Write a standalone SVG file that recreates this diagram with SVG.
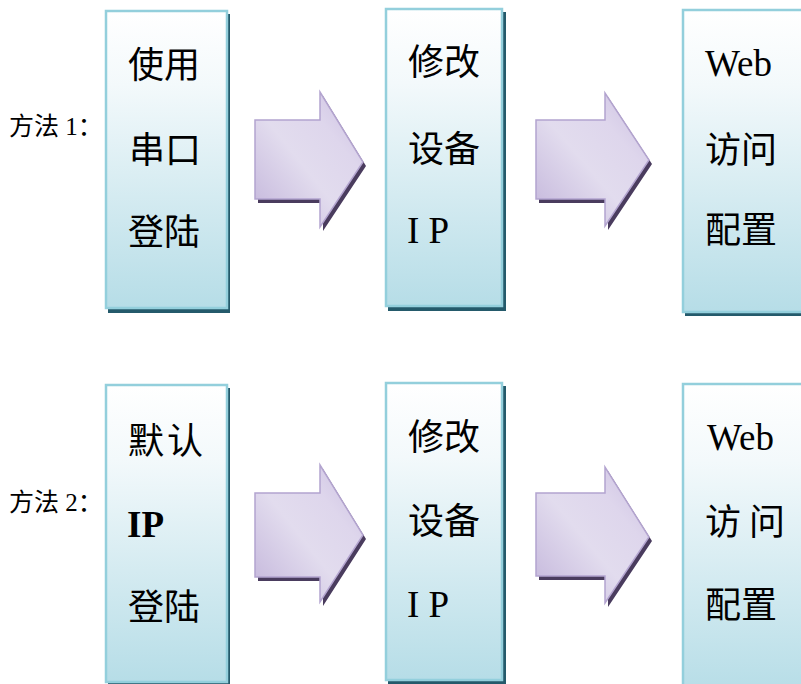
<svg xmlns="http://www.w3.org/2000/svg" width="801" height="684" viewBox="0 0 801 684">
<style>
.shadow{fill:#245a6b}
.box{fill:url(#boxGrad);stroke:#93cfdc;stroke-width:2.5}
.t{font-family:"Liberation Serif","Noto Sans CJK SC",serif;font-size:36px;fill:#000}
.lat{font-size:37px}
.lbl{font-family:"Liberation Serif","Noto Sans CJK SC",serif;font-size:25px;fill:#000}
.ash{fill:#4a3c5e}
.arr{fill:url(#arrGrad);stroke:#b3a4cf;stroke-width:1.5;stroke-linejoin:miter}
</style>
<defs>
<linearGradient id="boxGrad" x1="0" y1="0" x2="0" y2="1">
<stop offset="0" stop-color="#ffffff"/>
<stop offset="0.25" stop-color="#f3f9fb"/>
<stop offset="1" stop-color="#b6dde7"/>
</linearGradient>
<linearGradient id="arrGrad" x1="0" y1="1" x2="1" y2="0">
<stop offset="0" stop-color="#c2b4da"/>
<stop offset="0.45" stop-color="#e2dcee"/>
<stop offset="0.7" stop-color="#ded6ec"/>
<stop offset="1" stop-color="#c9bde0"/>
</linearGradient>
</defs>

<g id="label1"><text class="lbl" x="9" y="135">方法 1：</text></g>
<g id="label2"><text class="lbl" x="9" y="511">方法 2：</text></g>

<g id="r1b1">
<rect class="shadow" x="108" y="14" width="122" height="299"/>
<rect class="box" x="106" y="11" width="121" height="297"/>
<text class="t" x="128" y="78">使用</text>
<text class="t" y="163"><tspan x="129">串</tspan> <tspan x="165">口</tspan></text>
<text class="t" x="128" y="245">登陆</text>
</g>
<g id="r1b2">
<rect class="shadow" x="388" y="12" width="118" height="299"/>
<rect class="box" x="386" y="9" width="116" height="297"/>
<text class="t" x="408" y="75">修改</text>
<text class="t" x="408" y="162">设备</text>
<text class="t lat" x="407" y="243">I P</text>
</g>
<g id="r1b3">
<rect class="shadow" x="685" y="13" width="130" height="303"/>
<rect class="box" x="683" y="10" width="130" height="302"/>
<text class="t lat" x="705" y="76">Web</text>
<text class="t" x="705" y="163">访问</text>
<text class="t" x="705" y="243">配置</text>
</g>

<g id="r2b1">
<rect class="shadow" x="108" y="388" width="122" height="299"/>
<rect class="box" x="106" y="385" width="121" height="297"/>
<text class="t" y="454"><tspan x="128">默</tspan> <tspan x="167">认</tspan></text>
<text class="t lat" x="127" y="537" font-weight="bold">IP</text>
<text class="t" x="128" y="620">登陆</text>
</g>
<g id="r2b2">
<rect class="shadow" x="388" y="386" width="118" height="299"/>
<rect class="box" x="386" y="383" width="116" height="297"/>
<text class="t" x="408" y="450">修改</text>
<text class="t" x="408" y="534">设备</text>
<text class="t lat" x="407" y="617">I P</text>
</g>
<g id="r2b3">
<rect class="shadow" x="685" y="387" width="130" height="303"/>
<rect class="box" x="683" y="384" width="130" height="310"/>
<text class="t lat" x="707" y="450">Web</text>
<text class="t" y="535"><tspan x="705">访</tspan> <tspan x="749">问</tspan></text>
<text class="t" x="705" y="618">配置</text>
</g>

<g id="connectors">
<polygon class="ash" points="258,124 323,124 323,96 366,166 323,231 323,203 258,203"/>
<polygon class="arr" points="255,120 320,120 320,92 363,162 320,227 320,199 255,199"/>
<polygon class="ash" points="539,124 608,124 608,97 652,164 608,230 608,203 539,203"/>
<polygon class="arr" points="536,120 605,120 605,93 649,160 605,226 605,199 536,199"/>
<polygon class="ash" points="258,497 323,497 323,469 366,539 323,606 323,581 258,581"/>
<polygon class="arr" points="255,493 320,493 320,465 363,535 320,602 320,577 255,577"/>
<polygon class="ash" points="539,497 608,497 608,471 652,541 608,607 608,580 539,580"/>
<polygon class="arr" points="536,493 605,493 605,467 649,537 605,603 605,576 536,576"/>
</g>
</svg>
